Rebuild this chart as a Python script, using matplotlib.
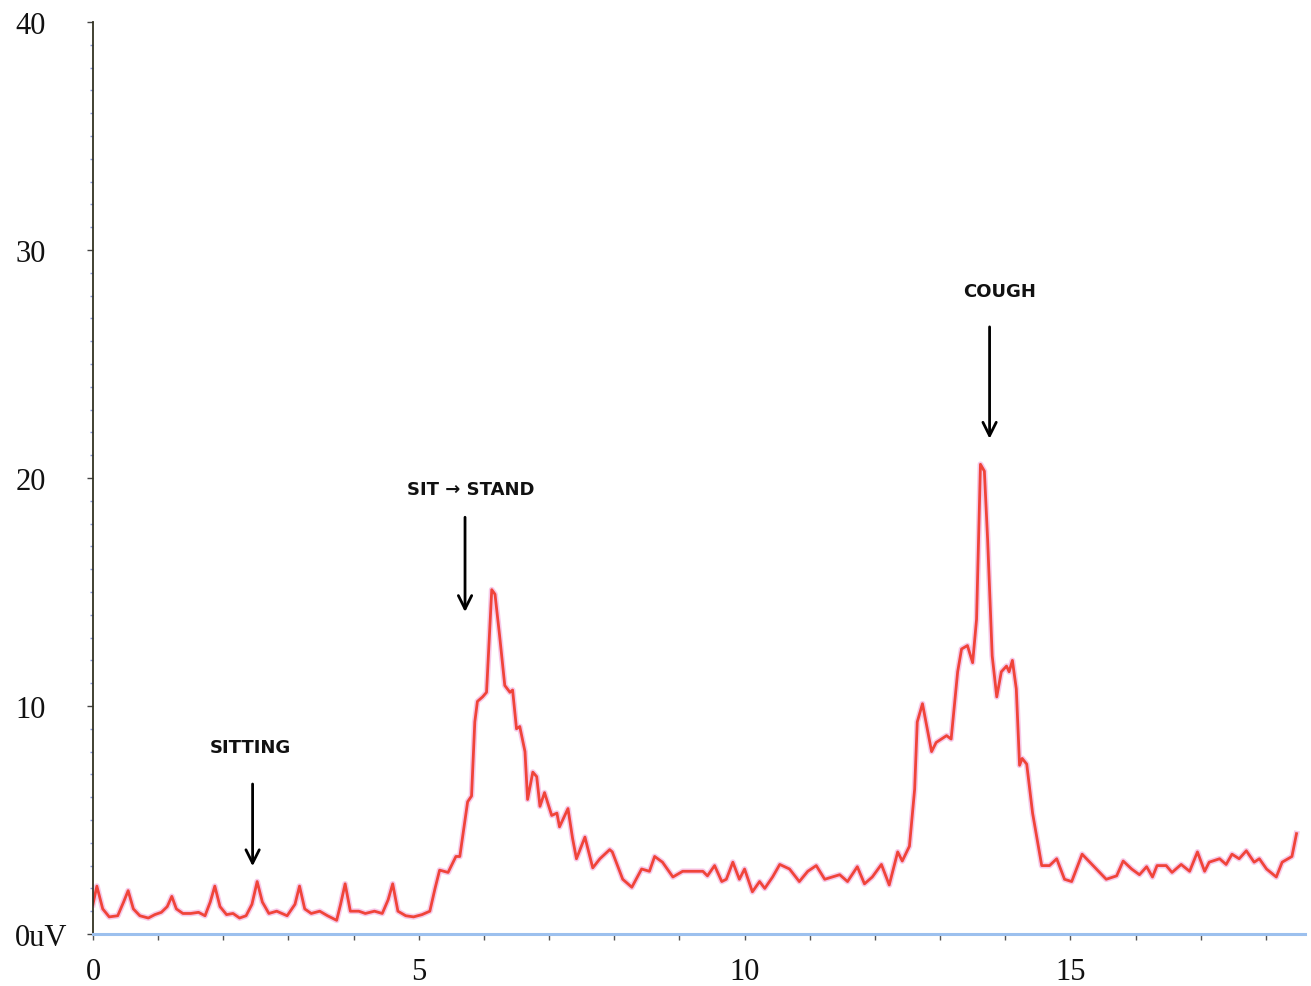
import matplotlib
matplotlib.use("Agg")
import matplotlib.pyplot as plt
from matplotlib.ticker import MultipleLocator

# time (s) and EMG amplitude (uV) of the recorded trace
time_s = [
    0.00, 0.06, 0.15, 0.25, 0.38, 0.47, 0.54, 0.62, 0.72, 0.85, 0.95, 1.05,
    1.14, 1.21, 1.28, 1.38, 1.50, 1.62, 1.72, 1.80, 1.87, 1.95, 2.05, 2.15,
    2.25, 2.35, 2.44, 2.52, 2.60, 2.70, 2.82, 2.98, 3.10, 3.17, 3.25, 3.35,
    3.48, 3.60, 3.74, 3.80, 3.87, 3.95, 4.08, 4.18, 4.32, 4.44, 4.53, 4.60,
    4.68, 4.80, 4.92, 5.05, 5.17, 5.25, 5.32, 5.45, 5.57, 5.63, 5.75, 5.81,
    5.86, 5.90, 5.98, 6.04, 6.12, 6.17, 6.24, 6.32, 6.40, 6.44, 6.50, 6.55,
    6.63, 6.67, 6.75, 6.81, 6.86, 6.93, 7.04, 7.12, 7.16, 7.29, 7.36, 7.42,
    7.55, 7.67, 7.78, 7.93, 7.97, 8.13, 8.27, 8.42, 8.54, 8.62, 8.74, 8.90,
    9.05, 9.36, 9.43, 9.54, 9.65, 9.72, 9.82, 9.92, 10.00, 10.12, 10.23, 10.31,
    10.43, 10.54, 10.69, 10.84, 10.97, 11.10, 11.23, 11.46, 11.58, 11.73, 11.84, 11.96,
    12.10, 12.22, 12.35, 12.42, 12.53, 12.61, 12.65, 12.73, 12.87, 12.94, 13.10, 13.17,
    13.27, 13.33, 13.42, 13.50, 13.56, 13.62, 13.68, 13.73, 13.80, 13.87, 13.94, 14.02,
    14.06, 14.11, 14.17, 14.22, 14.26, 14.33, 14.42, 14.56, 14.68, 14.79, 14.91, 15.02,
    15.18, 15.40, 15.55, 15.71, 15.81, 15.94, 16.06, 16.17, 16.26, 16.33, 16.47, 16.56,
    16.70, 16.83, 16.95, 17.06, 17.13, 17.29, 17.39, 17.48, 17.59, 17.70, 17.82, 17.90,
    18.01, 18.16, 18.25, 18.40, 18.47,
]
emg_uv = [
    1.3, 2.1, 1.1, 0.75, 0.8, 1.4, 1.9, 1.1, 0.8, 0.7, 0.85, 0.95,
    1.2, 1.65, 1.1, 0.9, 0.9, 0.95, 0.8, 1.4, 2.1, 1.2, 0.85, 0.9,
    0.7, 0.8, 1.3, 2.3, 1.4, 0.9, 1.0, 0.8, 1.3, 2.1, 1.1, 0.9,
    1.0, 0.8, 0.6, 1.3, 2.2, 1.0, 1.0, 0.9, 1.0, 0.9, 1.5, 2.2,
    1.0, 0.8, 0.75, 0.85, 1.0, 2.0, 2.8, 2.7, 3.4, 3.4, 5.8, 6.05,
    9.3, 10.2, 10.4, 10.6, 15.1, 14.9, 13.1, 10.9, 10.6, 10.7, 9.0, 9.1,
    8.0, 5.9, 7.1, 6.9, 5.6, 6.2, 5.2, 5.3, 4.7, 5.5, 4.2, 3.3,
    4.25, 2.9, 3.3, 3.7, 3.6, 2.4, 2.05, 2.85, 2.75, 3.4, 3.15, 2.5,
    2.75, 2.75, 2.55, 3.0, 2.3, 2.4, 3.15, 2.4, 2.85, 1.85, 2.3, 2.0,
    2.5, 3.05, 2.85, 2.3, 2.75, 3.0, 2.4, 2.6, 2.3, 2.95, 2.2, 2.5,
    3.05, 2.15, 3.6, 3.2, 3.85, 6.35, 9.3, 10.1, 8.0, 8.4, 8.7, 8.55,
    11.5, 12.5, 12.65, 11.9, 13.8, 20.6, 20.3, 17.3, 12.2, 10.4, 11.5, 11.75,
    11.5, 12.0, 10.75, 7.4, 7.7, 7.45, 5.3, 3.0, 3.0, 3.3, 2.4, 2.3,
    3.5, 2.85, 2.4, 2.55, 3.2, 2.85, 2.6, 2.95, 2.5, 3.0, 3.0, 2.7,
    3.05, 2.75, 3.6, 2.75, 3.15, 3.3, 3.05, 3.5, 3.3, 3.65, 3.15, 3.3,
    2.85, 2.5, 3.15, 3.4, 4.4,
]

# event markers: label, x, label height, arrow top, arrow tip
events = ["SITTING", "SIT \u2192 STAND", "COUGH"]
event_x = [2.45, 5.71, 13.76]
label_x = [2.41, 5.80, 13.91]
label_y = [8.2, 19.5, 28.2]
arrow_top = [6.7, 18.4, 26.75]
arrow_tip = [2.85, 14.0, 21.6]

fig = plt.figure(figsize=(13.11, 9.87), dpi=100)
ax = fig.add_axes([0.0709, 0.0527, 0.9245, 0.924])

# soft pink halo under the red trace
ax.plot(time_s, emg_uv, color="#f0a0d8", lw=4.2, alpha=0.55, solid_joinstyle="round")
ax.plot(time_s, emg_uv, color="#f0443a", lw=2.0, solid_joinstyle="round")

for name, ex, lx, ly, top, tip in zip(events, event_x, label_x, label_y, arrow_top, arrow_tip):
    ax.text(lx, ly, name, ha="center", va="center", fontsize=13,
            fontweight="bold", color="#111111", family="DejaVu Sans")
    ax.annotate("", xy=(ex, tip), xytext=(ex, top),
                arrowprops=dict(arrowstyle="->", color="black", lw=2,
                                mutation_scale=24))

ax.set_xlim(0, 18.6)
ax.set_ylim(0, 40)

for side in ["top", "right"]:
    ax.spines[side].set_visible(False)
ax.spines["left"].set_color("#333322")
ax.spines["left"].set_linewidth(1.3)
ax.spines["bottom"].set_color("#9cc0ee")
ax.spines["bottom"].set_linewidth(2.2)

ax.set_xticks([0, 5, 10, 15])
ax.set_xticklabels(["0", "5", "10", "15"])
ax.xaxis.set_minor_locator(MultipleLocator(1))
ax.set_yticks([0, 10, 20, 30, 40])
ax.set_yticklabels(["0uV", "10", "20", "30", "40"])
ax.yaxis.set_minor_locator(MultipleLocator(1))

ax.tick_params(axis="x", which="both", direction="out", length=4.5,
               width=1, color="#555555", pad=12)
ax.tick_params(axis="y", which="major", direction="out", length=4.5,
               width=1, color="#444444", pad=51.5)
ax.tick_params(axis="y", which="minor", direction="out", length=2.5,
               width=1, color="#8898d8")

for lab in ax.get_xticklabels() + ax.get_yticklabels():
    lab.set_fontfamily("Liberation Serif")
    lab.set_fontsize(22)
    lab.set_color("#111111")
for lab in ax.get_yticklabels():
    lab.set_horizontalalignment("left")

fig.savefig("out.png", dpi=100)
